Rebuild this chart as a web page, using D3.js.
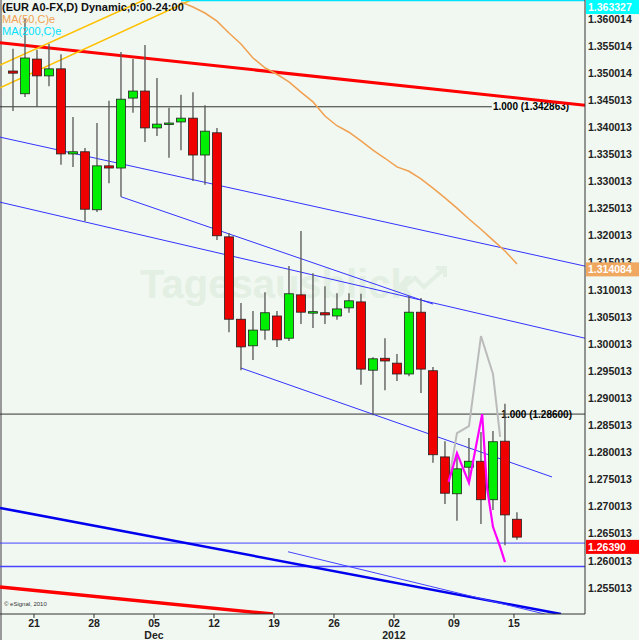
<!DOCTYPE html>
<html><head><meta charset="utf-8">
<script src="https://cdn.jsdelivr.net/npm/d3@7"></script>
<style>body{margin:0;background:#f1f8f1}svg{display:block}text{font-family:"Liberation Sans",Arial,sans-serif}</style>
</head><body><svg id="c" width="639" height="640"></svg>
<script>
// OHLC by trading-day index (0 = 17 Nov 2011)
const opens  = [1.3504,1.3462,1.3526,1.3495,1.3508,1.3351,1.3355,1.3248,1.3329,1.3325,1.3454,1.3467,1.3399,1.3408,1.3410,1.3417,1.3349,1.3390,1.3198,1.3046,1.2997,1.3026,1.3052,1.3011,1.3091,1.3059,1.3058,1.3052,1.3067,1.3078,1.2952,1.2974,1.2965,1.2945,1.3059,1.2951,1.2792,1.2724,1.2773,1.2784,1.2713,1.2821,1.2677];
const highs  = [1.3545,1.3602,1.3543,1.3554,1.3535,1.3419,1.3362,1.3408,1.3449,1.3539,1.3526,1.3552,1.3491,1.3436,1.3460,1.3465,1.3441,1.3399,1.3205,1.3076,1.3061,1.3096,1.3061,1.3144,1.3209,1.3131,1.3107,1.3094,1.3094,1.3093,1.2976,1.3011,1.2982,1.3089,1.3085,1.2958,1.2821,1.2792,1.2827,1.2838,1.2840,1.2890,1.2690];
const lows   = [1.3430,1.3456,1.3438,1.3476,1.3331,1.3327,1.3227,1.3244,1.3297,1.3272,1.3427,1.3373,1.3384,1.3344,1.3358,1.3301,1.3294,1.3192,1.3022,1.2952,1.2971,1.3008,1.2995,1.3006,1.3037,1.3030,1.3037,1.3045,1.3058,1.2925,1.2869,1.2915,1.2932,1.2941,1.2910,1.2781,1.2705,1.2674,1.2748,1.2668,1.2694,1.2629,1.2639];
const closes = [1.3500,1.3528,1.3495,1.3508,1.3351,1.3355,1.3249,1.3329,1.3325,1.3452,1.3467,1.3399,1.3406,1.3408,1.3417,1.3349,1.3393,1.3200,1.3046,1.2995,1.3026,1.3058,1.3008,1.3093,1.3059,1.3060,1.3054,1.3065,1.3080,1.2954,1.2973,1.2969,1.2945,1.3059,1.2954,1.2796,1.2725,1.2770,1.2784,1.2713,1.2820,1.2685,1.2644];
// MA(50) from index 14
const ma50Start = 14;
const ma50 = [1.3631,1.3622,1.3611,1.3596,1.3574,1.3554,1.3528,1.3510,1.3498,1.3484,1.3465,1.3447,1.3421,1.3403,1.3391,1.3375,1.3358,1.3343,1.3327,1.3319,1.3305,1.3288,1.3270,1.3251,1.3231,1.3212,1.3192,1.3172,1.3148];
const ma200 = [[14,1.3634],[47.7,1.3634]];
const tickLabels = [["21",2],["28",7],["05",12],["12",17],["19",22],["26",27],["02",32],["09",37],["15",42]];
const monthLabels = [["Dec",12],["2012",32]];
const priceTicks = [1.360014,1.355014,1.350014,1.345013,1.340013,1.335013,1.330013,1.325013,1.320013,1.315013,1.310013,1.305013,1.300013,1.295013,1.290013,1.285013,1.280013,1.275013,1.270013,1.265013,1.260013,1.255013];
// trend lines [x1,p1,x2,p2,color,width]
const trendLines = [
 [-1.083,1.3556,47.67,1.3441,"#ff0000",3],
 [-1.083,1.2552,21.67,1.2502,"#ff0000",3.5],
 [-1.083,1.2698,45.67,1.2502,"#0000ee",2.5],
 [22.92,1.2617,44.33,1.2502,"#4444ff",1],
 [-1.083,1.3382,47.67,1.3144,"#3333ff",1],
 [-1.083,1.3262,47.67,1.3011,"#3333ff",1],
 [9,1.3272,35,1.3074,"#3333ff",1],
 [19,1.2956,44.92,1.2755,"#3333ff",1],
 [-1.083,1.3515,10.92,1.3635,"#ffc000",1.5],
 [-1.083,1.3473,14.83,1.3635,"#ffc000",1.5]
];
const hLines = [[1.3438,-1.083,39.9,"#333",1],[1.2871,-1.083,47.67,"#333",1],[1.2633,-1.083,47.67,"#4444ff",1],[1.2590,-1.083,47.67,"#4444ff",1.5]];
const hLabels = [["1.000 (1.342863)",40,1.3438],["1.000 (1.28600)",40.7,1.2871]];
const grey = [[36.3,1.2746],[37,1.2836],[38,1.2849],[39,1.3015],[40,1.2945],[40.6,1.2829]];
const magenta = [[36.3,1.2746],[37,1.2799],[38,1.2744],[39.1,1.2871],[39.5,1.2736],[40,1.2663],[40.6,1.2626],[41,1.2598]];
const tags = [["1.363327",1.3633,"#00ffff","#fff"],["1.314084",1.3138,"#f0a860","#fff"],["1.26390",1.2626,"#ff0000","#fff"]];

const W=585,H=614;
const svg=d3.select("#c");
const x=d3.scaleLinear().domain([-1.083,47.67]).range([0,W]);
const y=d3.scaleLinear().domain([1.3635,1.3635-0.0001845*H]).range([0,H]);
svg.append("rect").attr("width",639).attr("height",640).attr("fill","#f1f8f1");
svg.append("rect").attr("x",0).attr("y",0).attr("width",2).attr("height",640).attr("fill","#999");
const g=svg.append("g");
g.append("defs").append("clipPath").attr("id","cp").append("rect").attr("width",W).attr("height",H);
const pl=g.append("g").attr("clip-path","url(#cp)");
// watermark
pl.append("text").attr("x",140).attr("y",298).attr("font-size",40).attr("font-weight","bold")
 .attr("fill","#e2efe2").text("Tagesausblick");
pl.append("path").attr("d","M398,292 L415,278 L424,287 L445,268 M436,268 L445,268 L445,277").attr("stroke","#e2efe2").attr("stroke-width",4).attr("fill","none");
// hlines
hLines.forEach(h=>pl.append("line").attr("x1",x(h[1])).attr("x2",x(h[2])).attr("y1",y(h[0])).attr("y2",y(h[0])).attr("stroke",h[3]).attr("stroke-width",h[4]));
hLabels.forEach(l=>pl.append("text").attr("x",x(l[1])).attr("y",y(l[2])).attr("dy","0.35em").attr("font-size",10).attr("font-weight","bold").text(l[0]));
trendLines.forEach(t=>pl.append("line").attr("x1",x(t[0])).attr("y1",y(t[1])).attr("x2",x(t[2])).attr("y2",y(t[3])).attr("stroke",t[4]).attr("stroke-width",t[5]));
const ln=d3.line().x(d=>x(d[0])).y(d=>y(d[1]));
pl.append("path").attr("d",ln(ma50.map((v,i)=>[ma50Start+i,v]))).attr("stroke","#f0a050").attr("stroke-width",1.5).attr("fill","none");
pl.append("path").attr("d",ln(ma200)).attr("stroke","#00e0ff").attr("stroke-width",1.5).attr("fill","none");
pl.append("path").attr("d",ln(grey)).attr("stroke","#bbb").attr("stroke-width",2).attr("fill","none");
// candles
const idx=d3.range(opens.length);
const cg=pl.append("g");
idx.forEach(i=>{
 const cx=x(i);
 cg.append("line").attr("x1",cx).attr("x2",cx).attr("y1",y(highs[i])).attr("y2",y(lows[i])).attr("stroke","#555").attr("stroke-width",1.3);
 const up=closes[i]>=opens[i];
 const t=y(Math.max(opens[i],closes[i])), b=y(Math.min(opens[i],closes[i]));
 cg.append("rect").attr("x",cx-4.5).attr("y",t).attr("width",9).attr("height",Math.max(1.5,b-t))
  .attr("fill",up?"#00ee00":"#ee0000").attr("stroke","#222").attr("stroke-width",0.8);
});
pl.append("path").attr("d",ln(magenta)).attr("stroke","#ff00ff").attr("stroke-width",2.2).attr("fill","none");
// axes
svg.append("line").attr("x1",W).attr("x2",W).attr("y1",0).attr("y2",H).attr("stroke","#333");
svg.append("line").attr("x1",0).attr("x2",W).attr("y1",H).attr("y2",H).attr("stroke","#333");
const ya=svg.append("g");
priceTicks.forEach(p=>ya.append("text").attr("x",W+3).attr("y",y(p)).attr("dy","0.35em").attr("font-size",10.5).attr("font-weight","bold").attr("fill","#222").text(p.toFixed(6)));
tags.forEach(t=>{
 const cy=Math.max(7,y(t[1]));
 ya.append("rect").attr("x",W+1).attr("y",cy-7).attr("width",53).attr("height",14).attr("fill",t[2]);
 ya.append("text").attr("x",W+3).attr("y",cy).attr("dy","0.35em").attr("font-size",10.5).attr("font-weight","bold").attr("fill",t[3]).text(t[0]);
});
tickLabels.forEach(t=>{
 const px=x(t[1])-3;
 svg.append("line").attr("x1",px).attr("x2",px).attr("y1",H).attr("y2",H+4).attr("stroke","#333");
 svg.append("text").attr("x",px).attr("y",H+13).attr("text-anchor","middle").attr("font-size",10.5).attr("font-weight","bold").attr("fill","#222").text(t[0]);
});
monthLabels.forEach(m=>svg.append("text").attr("x",x(m[1])-3).attr("y",H+25).attr("text-anchor","middle").attr("font-size",10.5).attr("font-weight","bold").attr("fill","#222").text(m[0]));
svg.append("text").attr("x",4).attr("y",H-8).attr("font-size",6).attr("fill","#333").text("© eSignal, 2010");
// legend
svg.append("text").attr("x",2).attr("y",11).attr("font-size",11).attr("font-weight","bold").attr("fill","#111").text("(EUR A0-FX,D) Dynamic,0:00-24:00");
svg.append("text").attr("x",2).attr("y",23).attr("font-size",11).attr("fill","#f0a050").text("MA(50,C)e");
svg.append("text").attr("x",2).attr("y",35).attr("font-size",11).attr("fill","#00e0ff").text("MA(200,C)e");
</script></body></html>
